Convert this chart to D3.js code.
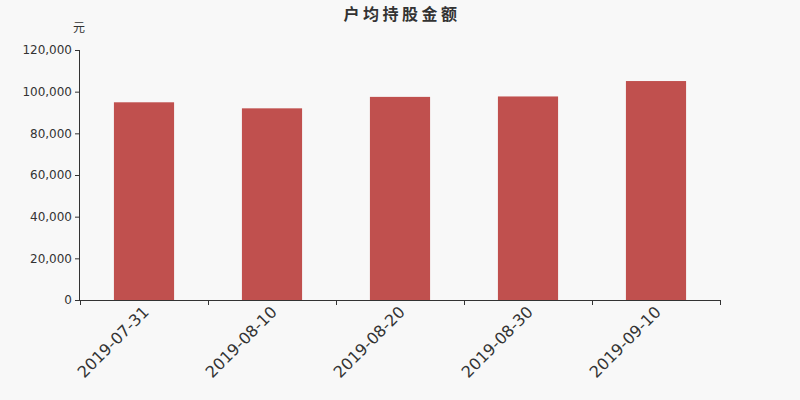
<!DOCTYPE html>
<html>
<head>
<meta charset="utf-8">
<script src="https://cdn.jsdelivr.net/npm/d3@7/dist/d3.min.js"></script>
<style>
  html, body { margin: 0; padding: 0; background: #f8f8f8; }
  svg { display: block; font-family: "DejaVu Sans", "Noto Sans CJK SC", sans-serif; }
</style>
</head>
<body>
<div id="chart"></div>
<script>
const dates = ['2019-07-31', '2019-08-10', '2019-08-20', '2019-08-30', '2019-09-10'];
const amounts = [94900, 92000, 97500, 97700, 105100];
const yTicks = [0, 20000, 40000, 60000, 80000, 100000, 120000];

const width = 800;
const height = 400;
const margin = { top: 50, right: 80, bottom: 100, left: 80 };
const fontFamily = '"DejaVu Sans", "Noto Sans CJK SC", sans-serif';

const svg = d3.select('#chart').append('svg')
  .attr('width', width)
  .attr('height', height);

svg.append('rect')
  .attr('width', width)
  .attr('height', height)
  .attr('fill', '#f8f8f8');

let x = d3.scaleBand()
  .domain(dates)
  .range([margin.left, width - margin.right])
  .padding(0);

let y = d3.scaleLinear()
  .domain([0, 120000])
  .range([height - margin.bottom, margin.top]);

let barWidth = x.bandwidth() * 0.47;
let fmt = d3.format(',');

// bars
svg.append('g').selectAll('rect')
  .data(dates.map((d, i) => ({ date: d, value: amounts[i] })))
  .enter().append('rect')
    .attr('x', d => x(d.date) + (x.bandwidth() - barWidth) / 2)
    .attr('y', d => y(d.value))
    .attr('width', barWidth)
    .attr('height', d => y(0) - y(d.value))
    .attr('fill', '#c0504e');

// y axis
let yAxis = svg.append('g')
  .attr('transform', `translate(${margin.left},0)`)
  .call(d3.axisLeft(y).tickValues(yTicks).tickFormat(fmt).tickSize(5).tickPadding(3))
  .attr('font-family', fontFamily)
  .attr('font-size', 12);
yAxis.select('.domain').attr('stroke', '#333').attr('d', `M-0.5,${y(120000)}V${y(0)}`);
yAxis.selectAll('.tick line').attr('stroke', '#333');
yAxis.selectAll('.tick text').attr('fill', '#333');

// x axis, ticks on band boundaries
let xg = svg.append('g')
  .attr('transform', `translate(0,${y(0)})`);
xg.append('line')
  .attr('x1', margin.left).attr('x2', width - margin.right)
  .attr('y1', 0.5).attr('y2', 0.5)
  .attr('stroke', '#333');
let bounds = dates.map(d => x(d)).concat([x(dates[dates.length - 1]) + x.bandwidth()]);
xg.selectAll('.xtick')
  .data(bounds)
  .enter().append('line')
    .attr('x1', d => d + 0.5).attr('x2', d => d + 0.5)
    .attr('y1', 0).attr('y2', 5)
    .attr('stroke', '#333');
xg.selectAll('.xlabel')
  .data(dates)
  .enter().append('text')
    .attr('text-anchor', 'end')
    .attr('transform', d => `translate(${x(d) + x.bandwidth() / 2 + 6},${13}) rotate(-45)`)
    .attr('fill', '#333')
    .style('font-size', '16px')
    .text(d => d);

// unit label
svg.append('text')
  .attr('x', 79)
  .attr('y', 32)
  .attr('text-anchor', 'middle')
  .attr('fill', '#333')
  .style('font-size', '12px')
  .text('元');

// title
svg.append('text')
  .attr('x', width / 2 + 2)
  .attr('y', 20)
  .attr('text-anchor', 'middle')
  .attr('fill', '#333')
  .style('font-size', '16px')
  .style('font-weight', 'bold')
  .style('letter-spacing', '3.5px')
  .text('户均持股金额');
</script>
</body>
</html>
